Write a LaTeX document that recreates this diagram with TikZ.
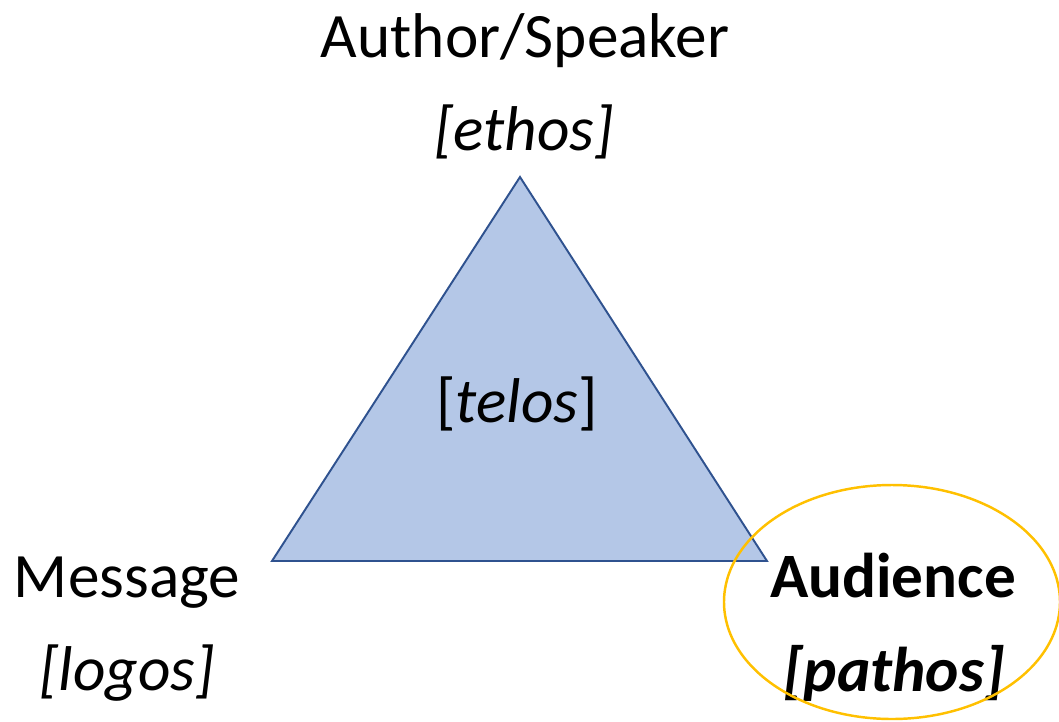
\documentclass[tikz,border=0pt]{standalone}
\usepackage{fontspec}
\setmainfont{Carlito}
\definecolor{trifill}{HTML}{B4C7E7}
\definecolor{triline}{HTML}{2F528F}
\definecolor{gold}{HTML}{FFC000}

\begin{document}
\begin{tikzpicture}[x=0.02cm, y=-0.02cm,
    label/.style={anchor=base, inner sep=0pt, font=\fontsize{36}{40}\selectfont}]
    \useasboundingbox (0,0) rectangle (1059,721);
    % Triangle
    \coordinate (T) at (520,177);
    \coordinate (L) at (272,561);
    \coordinate (R) at (767,561);
    \draw[line width=1.1pt, draw=triline, fill=trifill] (T) -- (L) -- (R) -- cycle;
    % Nodes
    \node[label] (author) at (525,57) {Author/Speaker};
    \node[label] (ethos) at (524,150) {\itshape [ethos]};
    \node[label] (telos) at (517,422) {[\textit{telos}]};
    \node[label] (msg) at (127,597) {Message};
    \node[label] (logos) at (127,690) {\itshape [logos]};
    \node[label] (aud) at (893,597) {\bfseries Audience};
    \node[label] (pathos) at (894,691) {\bfseries\itshape [pathos]};
    % Highlight
    \draw[line width=1.4pt, draw=gold] (892,602) ellipse [x radius=168, y radius=117];
  \end{tikzpicture}
\end{document}
